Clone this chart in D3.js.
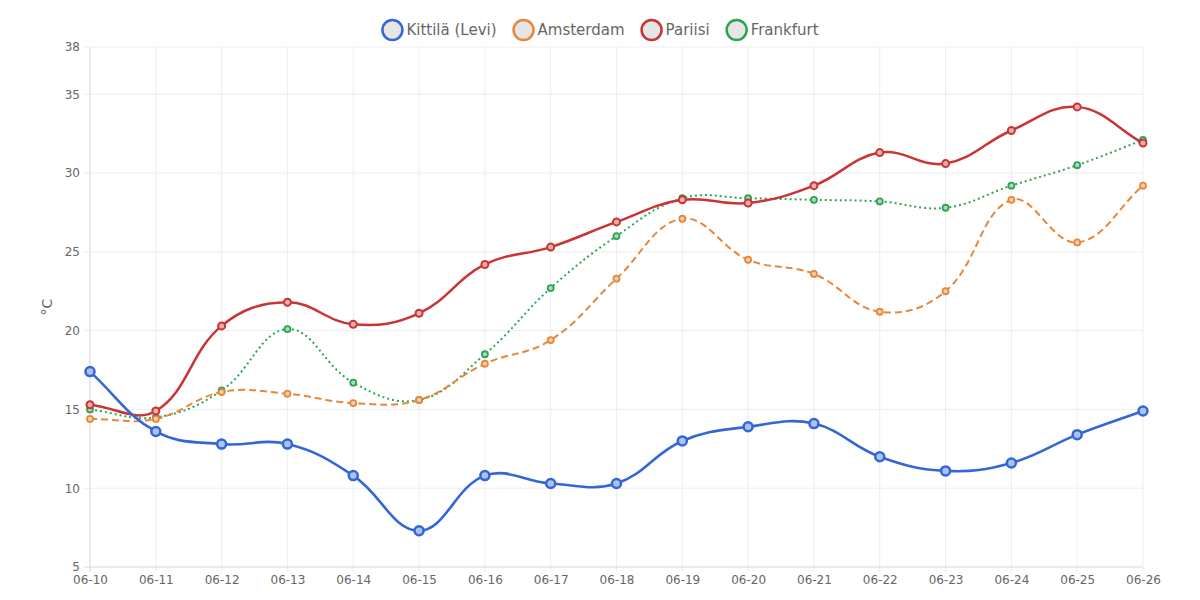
<!DOCTYPE html>
<html>
<head>
<meta charset="utf-8">
<script src="https://cdn.jsdelivr.net/npm/d3@7"></script>
<style>
  body { margin: 0; background: #fff; }
  svg, svg text { font-family: "DejaVu Sans", sans-serif; }
</style>
</head>
<body>
<svg id="chart" width="1200" height="600"></svg>
<script>
// data
const days = ["06-10","06-11","06-12","06-13","06-14","06-15","06-16","06-17","06-18",
              "06-19","06-20","06-21","06-22","06-23","06-24","06-25","06-26"];
const kittila   = [17.4,13.6,12.8,12.8,10.8,7.3,10.8,10.3,10.3,13.0,13.9,14.1,12.0,11.1,11.6,13.4,14.9];
const amsterdam = [14.4,14.4,16.1,16.0,15.4,15.6,17.9,19.4,23.3,27.1,24.5,23.6,21.2,22.5,28.3,25.6,29.2];
const pariisi   = [15.3,14.9,20.3,21.8,20.4,21.1,24.2,25.3,26.9,28.3,28.1,29.2,31.3,30.6,32.7,34.2,31.9];
const frankfurt = [15.0,14.5,16.2,20.1,16.7,15.6,18.5,22.7,26.0,28.4,28.4,28.3,28.2,27.8,29.2,30.5,32.1];
const yTicks = [5,10,15,20,25,30,35,38];

const series = [
  {name: "Kittilä (Levi)", values: kittila,   color: "#3366d6", width: 2.6, dash: null,  r: 4.5, pw: 2.5},
  {name: "Amsterdam",      values: amsterdam, color: "#e8873a", width: 2,   dash: "7,4", r: 3,   pw: 1.8},
  {name: "Pariisi",        values: pariisi,   color: "#c93434", width: 2.5, dash: null,  r: 3.5, pw: 2},
  {name: "Frankfurt",      values: frankfurt, color: "#2fa454", width: 2,   dash: "2,3", r: 3,   pw: 1.8}
];

const svg = d3.select("#chart");
const margin = {left: 90, right: 57, top: 47, bottom: 33};
const W = 1200, H = 600;

const x = d3.scalePoint().domain(days).range([margin.left, W - margin.right]);
const y = d3.scaleLinear().domain([5, 38]).range([H - margin.bottom, margin.top]);

// grid
svg.append("g")
  .selectAll("line")
  .data(days)
  .join("line")
  .attr("x1", d => x(d)).attr("x2", d => x(d))
  .attr("y1", margin.top).attr("y2", H - margin.bottom + 5)
  .attr("stroke", d => d === days[0] ? "#d6d6d6" : "#ededed")
  .attr("stroke-width", 1);

svg.append("g")
  .selectAll("line")
  .data(yTicks)
  .join("line")
  .attr("x1", margin.left - 6).attr("x2", W - margin.right)
  .attr("y1", d => y(d)).attr("y2", d => y(d))
  .attr("stroke", d => d === 5 ? "#d6d6d6" : "#ededed")
  .attr("stroke-width", 1);

// axes labels
const yAxis = d3.axisLeft(y).tickValues(yTicks).tickSize(0).tickPadding(10);
svg.append("g")
  .attr("transform", `translate(${margin.left},0)`)
  .call(yAxis)
  .attr("font-family", null)
  .call(g => g.select(".domain").remove())
  .call(g => g.selectAll("text").attr("fill", "#666").style("font-size", "12px"));

const xAxis = d3.axisBottom(x).tickSize(0).tickPadding(8);
svg.append("g")
  .attr("transform", `translate(0,${H - margin.bottom})`)
  .call(xAxis)
  .attr("font-family", null)
  .call(g => g.select(".domain").remove())
  .call(g => g.selectAll("text").attr("fill", "#666").style("font-size", "12px"));

svg.append("text")
  .attr("transform", `translate(52,${(margin.top + H - margin.bottom) / 2}) rotate(-90)`)
  .attr("text-anchor", "middle")
  .attr("fill", "#666")
  .style("font-size", "14px")
  .text("°C");

// spline like the original chart: control points scaled by pixel distance
function splinePath(pts, t) {
  const n = pts.length;
  const cp = pts.map((p, i) => {
    const prev = pts[Math.max(i - 1, 0)], next = pts[Math.min(i + 1, n - 1)];
    const d01 = Math.hypot(p[0] - prev[0], p[1] - prev[1]);
    const d12 = Math.hypot(next[0] - p[0], next[1] - p[1]);
    let s01 = d01 / (d01 + d12), s12 = d12 / (d01 + d12);
    if (isNaN(s01)) s01 = 0;
    if (isNaN(s12)) s12 = 0;
    const fa = t * s01, fb = t * s12;
    return {
      prev: [p[0] - fa * (next[0] - prev[0]), p[1] - fa * (next[1] - prev[1])],
      next: [p[0] + fb * (next[0] - prev[0]), p[1] + fb * (next[1] - prev[1])]
    };
  });
  const path = d3.path();
  path.moveTo(pts[0][0], pts[0][1]);
  for (let i = 1; i < n; i++) {
    const a = cp[i - 1].next, b = cp[i].prev;
    path.bezierCurveTo(a[0], a[1], b[0], b[1], pts[i][0], pts[i][1]);
  }
  return path.toString();
}

// draw in reverse so Kittilä sits on top
const drawOrder = [3, 1, 2, 0];
drawOrder.forEach(k => {
  const s = series[k];
  const pts = s.values.map((v, i) => [x(days[i]), y(v)]);
  const g = svg.append("g");
  g.append("path")
    .attr("d", splinePath(pts, 0.4))
    .attr("fill", "none")
    .attr("stroke", s.color)
    .attr("stroke-width", s.width)
    .attr("stroke-dasharray", s.dash);
  g.selectAll("circle")
    .data(s.values)
    .join("circle")
    .attr("cx", (d, i) => x(days[i]))
    .attr("cy", d => y(d))
    .attr("r", s.r)
    .attr("fill", d3.interpolateRgb(s.color, "#fff")(0.6))
    .attr("stroke", s.color)
    .attr("stroke-width", s.pw);
});

// legend
const legend = svg.append("g").style("font-size", "15px");
let lx = 0;
series.forEach(s => {
  const it = legend.append("g").attr("transform", `translate(${lx},0)`);
  it.append("circle").attr("cx", 11).attr("cy", 0).attr("r", 10)
    .attr("fill", "#e6e6e6").attr("stroke", s.color).attr("stroke-width", 2.5);
  const t = it.append("text").attr("x", 25).attr("y", 5).attr("fill", "#666").text(s.name);
  const w = t.node().getComputedTextLength();
  lx += 25 + w + 16;
});
const legendW = lx - 16;
legend.attr("transform", `translate(${(W - legendW) / 2},30)`);
</script>
</body>
</html>
